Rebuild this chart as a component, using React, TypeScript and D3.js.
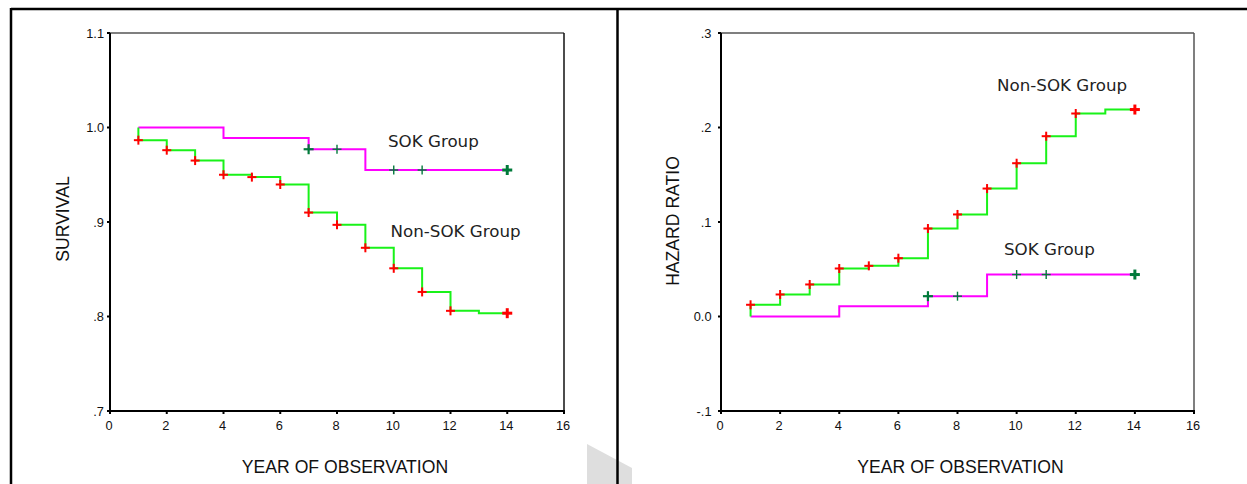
import React from 'react';
import * as d3 from 'd3';

// ---- data ----
const years = [1, 2, 3, 4, 5, 6, 7, 8, 9, 10, 11, 12, 13, 14];
const nonSokSurvival = [0.9866, 0.976, 0.965, 0.95, 0.9475, 0.9397, 0.91, 0.897, 0.8727, 0.851, 0.826, 0.806, 0.8035, 0.8035];
const sokSurvival = [1.0, 1.0, 1.0, 0.989, 0.989, 0.989, 0.977, 0.977, 0.955, 0.955, 0.955, 0.955, 0.955, 0.955];
const nonSokHazard = [0.0124, 0.0233, 0.0339, 0.0508, 0.0536, 0.0617, 0.0931, 0.108, 0.1354, 0.1622, 0.1908, 0.2148, 0.219, 0.219];
const sokHazard = [0, 0, 0, 0.0109, 0.0109, 0.0109, 0.0215, 0.0215, 0.0444, 0.0444, 0.0444, 0.0444, 0.0444, 0.0444];
const nonSokCensored = [1, 2, 3, 4, 5, 6, 7, 8, 9, 10, 11, 12, 14];
const sokCensored = [7, 8, 10, 11, 14];
const xTicks = [0, 2, 4, 6, 8, 10, 12, 14, 16];
const survivalTicks = [0.7, 0.8, 0.9, 1.0, 1.1];
const survivalTickLabels = ['.7', '.8', '.9', '1.0', '1.1'];
const hazardTicks = [-0.1, 0, 0.1, 0.2, 0.3];
const hazardTickLabels = ['-.1', '0.0', '.1', '.2', '.3'];

const GREEN = '#19f219';
const MAGENTA = '#ff00ff';
const RED = '#ff0000';
const DKGREEN = '#007a3a';
const AXIS_FONT = '"Liberation Sans", Arial, sans-serif';
const LABEL_FONT = '"DejaVu Sans", Tahoma, sans-serif';

type PanelProps = {
  x0: number; x1: number; yTop: number; yBot: number;
  domain: [number, number]; ticks: number[]; tickLabels: string[];
  tickLabelGap: number; rightColor: string;
  green: number[]; greenStart: number; magenta: number[]; magentaStart: number;
  yTitle: string; yTitleX: number; yTitleY: number;
  xTitleX: number;
  labels: { text: string; x: number; y: number }[];
};

function Marker({ x, y, size, sw, color }: { x: number; y: number; size: number; sw: number; color: string }) {
  return (
    <g stroke={color} strokeWidth={sw}>
      <line x1={x - size / 2} x2={x + size / 2} y1={y} y2={y} />
      <line x1={x} x2={x} y1={y - size / 2} y2={y + size / 2} />
    </g>
  );
}

function Panel(p: PanelProps) {
  const x = d3.scaleLinear().domain([0, 16]).range([p.x0, p.x1]);
  const y = d3.scaleLinear().domain(p.domain).range([p.yBot, p.yTop]);
  const line = d3.line<[number, number]>().x(d => x(d[0])).y(d => y(d[1])).curve(d3.curveStepAfter);
  const gPts: [number, number][] = [[years[0], p.greenStart], ...years.map((t, i) => [t, p.green[i]] as [number, number])];
  const mPts: [number, number][] = [[years[0], p.magentaStart], ...years.map((t, i) => [t, p.magenta[i]] as [number, number])];
  return (
    <g>
      {/* frame */}
      <line x1={p.x0} x2={p.x1} y1={p.yTop} y2={p.yTop} stroke="#555" strokeWidth={1.5} />
      <line x1={p.x1} x2={p.x1} y1={p.yTop} y2={p.yBot} stroke={p.rightColor} strokeWidth={1.5} />
      {/* series */}
      <path d={line(mPts) || ''} fill="none" stroke={MAGENTA} strokeWidth={2} />
      <path d={line(gPts) || ''} fill="none" stroke={GREEN} strokeWidth={2} />
      {sokCensored.map((t, i) => {
        const last = i === sokCensored.length - 1;
        const bold = last || i === 0;
        return <Marker key={'s' + t} x={x(t)} y={y(p.magenta[t - 1])} size={bold ? 10 : 9} sw={bold ? (last ? 3 : 2.2) : 1.4} color={DKGREEN} />;
      })}
      {nonSokCensored.map((t, i) => {
        const last = i === nonSokCensored.length - 1;
        return <Marker key={'n' + t} x={x(t)} y={y(p.green[t - 1])} size={last ? 10 : 9} sw={last ? 3 : 2} color={RED} />;
      })}
      {/* axes */}
      <line x1={p.x0} x2={p.x0} y1={p.yTop} y2={p.yBot + 1} stroke="#000" strokeWidth={2} />
      <line x1={p.x0 - 1} x2={p.x1 + 1} y1={p.yBot} y2={p.yBot} stroke="#000" strokeWidth={2} />
      {p.ticks.map((v, i) => (
        <g key={'yt' + i}>
          <line x1={p.x0 - 3} x2={p.x0} y1={y(v)} y2={y(v)} stroke="#000" strokeWidth={2} />
          <text x={p.x0 - p.tickLabelGap} y={y(v) + 4.5} textAnchor="end" fontFamily={AXIS_FONT} fontSize={12.8} fill="#111">{p.tickLabels[i]}</text>
        </g>
      ))}
      {xTicks.map(v => (
        <g key={'xt' + v}>
          <line x1={x(v)} x2={x(v)} y1={p.yBot} y2={p.yBot + 3} stroke="#000" strokeWidth={2} />
          <text x={x(v) - 1} y={p.yBot + 18.5} textAnchor="middle" fontFamily={AXIS_FONT} fontSize={12.8} fill="#111">{v}</text>
        </g>
      ))}
      <text x={p.xTitleX} y={473} textAnchor="middle" fontFamily={AXIS_FONT} fontSize={17.6} fill="#111">YEAR OF OBSERVATION</text>
      <text transform={`translate(${p.yTitleX},${p.yTitleY}) rotate(-90)`} textAnchor="middle" fontFamily={AXIS_FONT} fontSize={17.6} fill="#111">{p.yTitle}</text>
      {p.labels.map(l => (
        <text key={l.text} x={l.x} y={l.y} fontFamily={LABEL_FONT} fontSize={16.7} fill="#222">{l.text}</text>
      ))}
    </g>
  );
}

export default function App() {
  return (
    <svg width={1247} height={484} style={{ position: 'absolute', left: 0, top: 0, background: '#fff' }}>
      <rect x={0} y={0} width={1247} height={484} fill="#fff" />
      <polygon points="587,444 632,468 632,484 587,484" fill="#dedede" />
      <line x1={11} x2={1247} y1={9} y2={9} stroke="#000" strokeWidth={2.5} />
      <line x1={11} x2={11} y1={8} y2={484} stroke="#000" strokeWidth={2.5} />
      <line x1={617.5} x2={617.5} y1={8} y2={484} stroke="#000" strokeWidth={2.5} />
      <Panel
        x0={110} x1={564} yTop={33} yBot={411}
        domain={[0.7, 1.1]} ticks={survivalTicks} tickLabels={survivalTickLabels}
        tickLabelGap={6} rightColor="#111"
        green={nonSokSurvival} greenStart={1.0} magenta={sokSurvival} magentaStart={1.0}
        yTitle="SURVIVAL" yTitleX={68.5} yTitleY={219} xTitleX={345}
        labels={[{ text: 'SOK Group', x: 388, y: 147 }, { text: 'Non-SOK Group', x: 390.5, y: 237 }]}
      />
      <Panel
        x0={721} x1={1194} yTop={33} yBot={411}
        domain={[-0.1, 0.3]} ticks={hazardTicks} tickLabels={hazardTickLabels}
        tickLabelGap={9.5} rightColor="#555"
        green={nonSokHazard} greenStart={0} magenta={sokHazard} magentaStart={0}
        yTitle="HAZARD RATIO" yTitleX={678.5} yTitleY={221} xTitleX={960.5}
        labels={[{ text: 'Non-SOK Group', x: 997, y: 91 }, { text: 'SOK Group', x: 1004, y: 255 }]}
      />
    </svg>
  );
}
